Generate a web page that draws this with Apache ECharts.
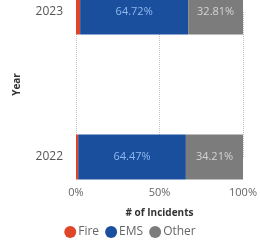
<!DOCTYPE html>
<html>
<head>
<meta charset="utf-8">
<script src="https://cdn.jsdelivr.net/npm/echarts@6/dist/echarts.min.js"></script>
<style>
  html, body { margin: 0; padding: 0; background: #fff; }
  #main { width: 260px; height: 245px; }
</style>
</head>
<body>
<div id="main"></div>
<script>
// share of incidents per year (percent)
var years = ['2022', '2023'];
var fire = [1.32, 2.47];
var ems = [64.47, 64.72];
var other = [34.21, 32.81];
var xTicks = ['0%', '50%', '100%'];

var myChart = echarts.init(document.getElementById('main'));

var font = '"Open Sans", "Noto Sans", sans-serif';

function pctLabel(color) {
  return {
    show: true,
    position: 'inside',
    color: color,
    fontFamily: font,
    fontSize: 11,
    formatter: function (p) { return p.value.toFixed(2) + '%'; }
  };
}

myChart.setOption({
  animation: false,
  textStyle: { fontFamily: font },
  grid: { left: 76, right: 14, top: 12, bottom: 88, containLabel: false },
  legend: {
    bottom: 2,
    left: 'center',
    icon: 'circle',
    itemWidth: 12,
    itemHeight: 12,
    itemGap: 6,
    textStyle: { color: '#666', fontSize: 12, fontFamily: font, padding: [0, 0, 0, -3] },
    data: ['Fire', 'EMS', 'Other']
  },
  xAxis: {
    type: 'value',
    min: 0,
    max: 100,
    interval: 50,
    offset: 23,
    name: '# of Incidents',
    nameLocation: 'middle',
    nameGap: 28,
    nameTextStyle: { color: '#333', fontWeight: 'bold', fontSize: 10 },
    axisLine: { show: false },
    axisTick: { show: false },
    axisLabel: {
      color: '#666',
      fontSize: 11,
      margin: 7,
      formatter: function (v) { return xTicks[v / 50]; }
    },
    splitLine: { show: true, lineStyle: { color: '#aaa', width: 1, type: 'dotted', opacity: 0.7 } }
  },
  yAxis: {
    type: 'category',
    data: years,
    boundaryGap: false,
    name: 'Year',
    nameLocation: 'middle',
    nameGap: 54,
    nameTextStyle: { color: '#333', fontWeight: 'bold', fontSize: 10 },
    axisLine: { show: false },
    axisTick: { show: false },
    axisLabel: { color: '#555', fontSize: 12, margin: 13 },
    splitLine: { show: false }
  },
  series: [
    {
      name: 'Fire', type: 'bar', stack: 'all', barWidth: 45,
      itemStyle: { color: '#e0452a' },
      data: fire
    },
    {
      name: 'EMS', type: 'bar', stack: 'all', barWidth: 45,
      itemStyle: { color: '#1a4f9e' },
      label: pctLabel('#8fb9ee'),
      data: ems
    },
    {
      name: 'Other', type: 'bar', stack: 'all', barWidth: 45,
      itemStyle: { color: '#7c7c7c' },
      label: pctLabel('#d4d4d4'),
      data: other
    }
  ]
});
</script>
</body>
</html>
